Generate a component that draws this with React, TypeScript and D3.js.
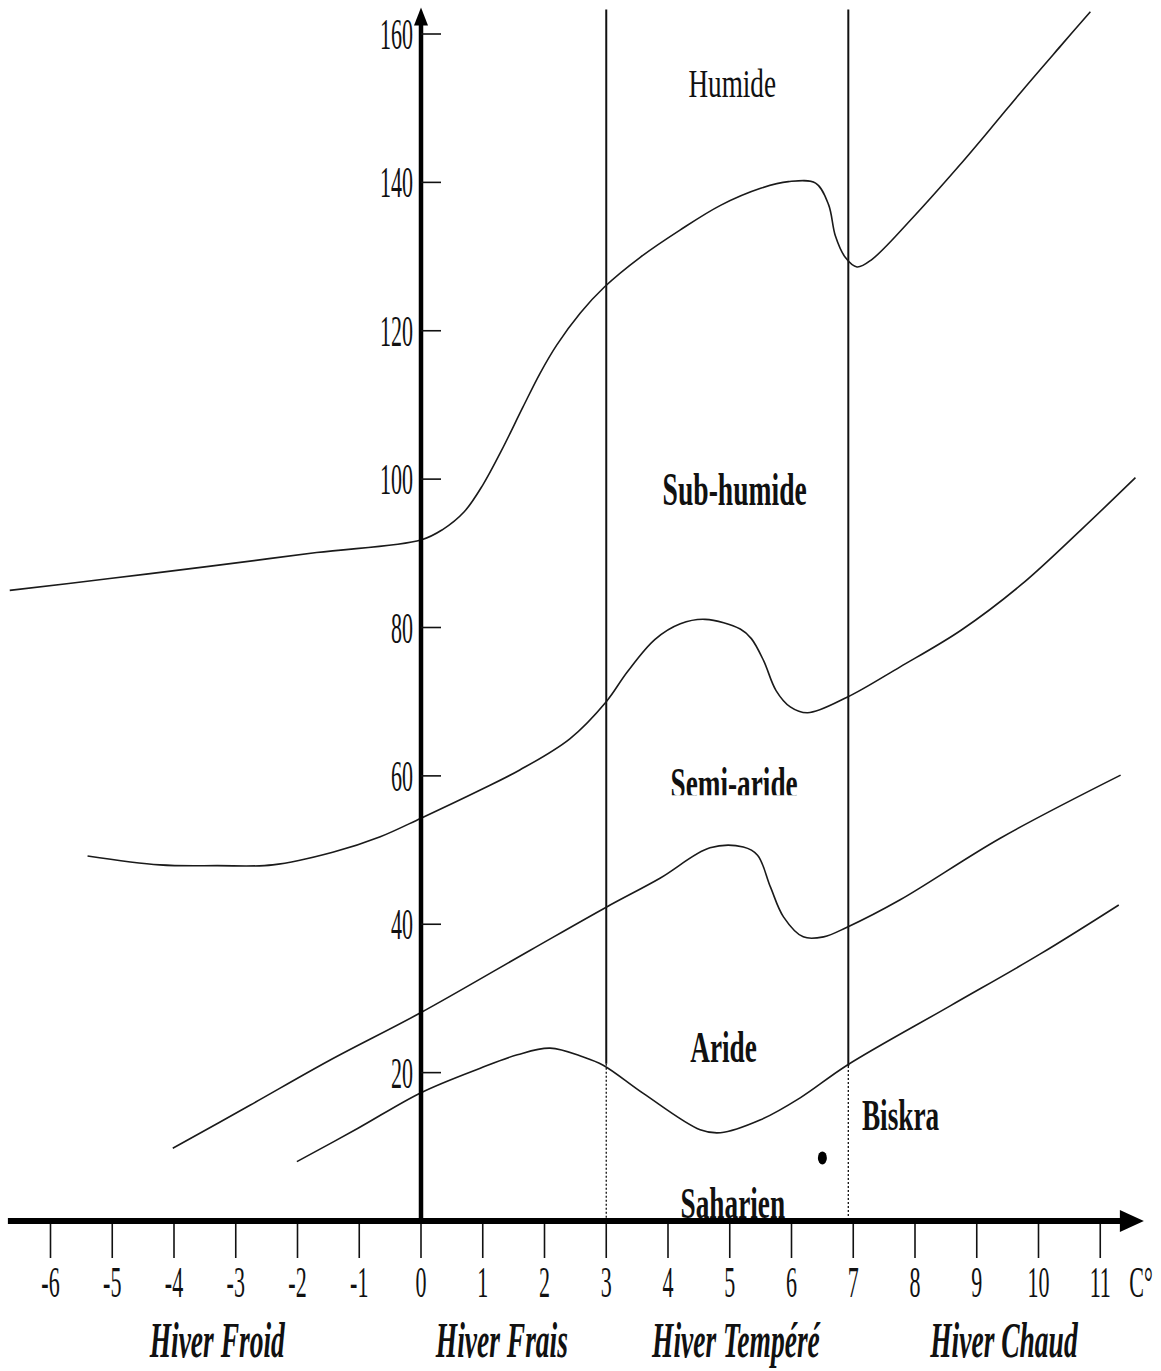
import React from "react";
import * as d3 from "d3";

// Emberger climagram: Q2 (y) vs mean minimum temperature of the coldest month (x, °C)
const xTicks = [-6, -5, -4, -3, -2, -1, 0, 1, 2, 3, 4, 5, 6, 7, 8, 9, 10, 11];
const yTicks = [20, 40, 60, 80, 100, 120, 140, 160];

// limit Humide / Sub-humide
const humideLimit: [number, number][] = [
  [-6.66, 85], [-5.04, 86.6], [-3.47, 88.2], [-1.69, 90.1], [0, 91.8], [0.35, 93.2],
  [0.7, 95.6], [1.0, 99.2], [1.3, 103.8], [1.65, 109.7], [1.93, 114.3], [2.2, 118.1],
  [2.58, 122.4], [2.97, 125.9], [3.55, 129.9], [4.2, 133.6], [4.85, 136.9], [5.5, 139.2],
  [5.95, 140.1], [6.39, 139.9], [6.6, 137], [6.71, 132.8], [6.87, 129.9], [7.06, 128.6],
  [7.3, 129.6], [7.97, 135.3], [8.69, 142], [9.22, 147.2], [9.76, 152.6], [10.36, 158.4],
  [10.84, 163],
];

// limit Sub-humide / Semi-aride
const subHumideLimit: [number, number][] = [
  [-5.4, 49.2], [-4.23, 48], [-3.3, 47.9], [-2.4, 48], [-1.43, 49.7], [-0.66, 51.8],
  [0, 54.3], [0.96, 58.1], [1.6, 60.8], [2.41, 65], [3, 70], [3.34, 74], [3.79, 78.4],
  [4.2, 80.5], [4.6, 81.1], [5.17, 79.8], [5.35, 78.5], [5.55, 75.5], [5.75, 71.5],
  [5.98, 69.3], [6.26, 68.5], [6.9, 70.6], [7.76, 74.7], [8.74, 79.6], [9.71, 85.7],
  [10.68, 93.1], [11.57, 100.2],
];

// limit Semi-aride / Aride
const semiAridLimit: [number, number][] = [
  [-4.02, 9.8], [-2.77, 15.6], [-1.47, 21.7], [0, 28.1], [1.77, 36.5], [3, 42.3],
  [3.87, 46.2], [4.68, 50.3], [5.22, 50.4], [5.45, 49.3], [5.66, 45], [5.87, 41],
  [6.19, 38.3], [6.52, 38.3], [6.9, 39.6], [7.76, 43.3], [9.38, 51.6], [11.33, 60.1],
];

// limit Aride / Saharien
const aridLimit: [number, number][] = [
  [-2.01, 8], [-1.02, 12.5], [0, 17.3], [0.96, 20.6], [1.56, 22.4], [2.09, 23.3],
  [2.63, 22.1], [2.95, 21], [3.6, 17.2], [4.52, 12.3], [4.85, 11.9], [5.49, 13.6],
  [6.14, 16.6], [6.9, 21], [8.57, 29], [10.03, 36], [11.3, 42.6],
];

// winter type boundaries: x, and Q2 below which the line is dotted
const winterBounds = [
  { x: 3, dottedTo: 21.2 },
  { x: 6.92, dottedTo: 20.9 },
];

const winterNames = ["Hiver Froid", "Hiver Frais", "Hiver Tempéré", "Hiver Chaud"];
const winterCenters = [-3.3, 1.31, 5.1, 9.44];

const zones = [
  { name: "Humide", x: 5.04, y: 151.5, bold: false, size: 40, sx: 0.68 },
  { name: "Sub-humide", x: 5.08, y: 96.5, bold: true, size: 46, sx: 0.6 },
  { name: "Semi-aride", x: 5.07, y: 57, bold: true, size: 44, sx: 0.62, cut: true },
  { name: "Aride", x: 4.9, y: 21.4, bold: true, size: 44, sx: 0.62 },
  { name: "Saharien", x: 5.05, y: 0.4, bold: true, size: 44, sx: 0.62 },
];

const station = { name: "Biskra", x: 6.5, y: 8.5, labelX: 7.14, labelY: 12.3 };

const W = 1161;
const H = 1371;
const FONT = "'Liberation Serif', 'Times New Roman', serif";

const x = d3.scaleLinear().domain([0, 11]).range([421, 1100.25]);
const y = d3.scaleLinear().domain([0, 160]).range([1221, 34]);

const line = d3
  .line<[number, number]>()
  .x((d) => x(d[0]))
  .y((d) => y(d[1]))
  .curve(d3.curveCatmullRom.alpha(0.5));

const Txt = ({ tx, ty, text, size, sx, bold = false, italic = false, anchor = "middle", clip }: any) => (
  <text
    transform={`translate(${tx},${ty}) scale(${sx},1)`}
    fontFamily={FONT}
    fontSize={size}
    fontWeight={bold ? "bold" : "normal"}
    fontStyle={italic ? "italic" : "normal"}
    textAnchor={anchor}
    fill="#111"
    clipPath={clip}
  >
    {text}
  </text>
);

export default function App() {
  const x0 = x(0);
  const y0 = y(0);
  const yTop = y(163.3);
  const xLeft = x(-6.69);
  const xEnd = x(11.35);

  return (
    <svg
      width={W}
      height={H}
      style={{ position: "absolute", left: 0, top: 0, background: "#fff" }}
    >
      <defs>
        {/* the "Semi-aride" label is cut at its foot in the original */}
        <clipPath id="cutFoot" clipPathUnits="userSpaceOnUse">
          <rect x={-200} y={-60} width={400} height={57} />
        </clipPath>
      </defs>
      <rect width={W} height={H} fill="#fff" />

      {/* winter type boundaries */}
      {winterBounds.map((b) => (
        <g key={b.x}>
          <line x1={x(b.x)} x2={x(b.x)} y1={yTop} y2={y(b.dottedTo)} stroke="#111" strokeWidth={2} />
          <line
            x1={x(b.x)}
            x2={x(b.x)}
            y1={y(b.dottedTo)}
            y2={y0}
            stroke="#111"
            strokeWidth={1.3}
            strokeDasharray="2,2"
          />
        </g>
      ))}

      {/* climate limits */}
      {[humideLimit, subHumideLimit, semiAridLimit, aridLimit].map((s, i) => (
        <path key={i} d={line(s) || ""} fill="none" stroke="#1a1a1a" strokeWidth={1.6} />
      ))}

      {/* y axis */}
      <line x1={x0} x2={x0} y1={y0} y2={yTop + 14} stroke="#000" strokeWidth={4.5} />
      <path d={`M${x0},${yTop - 2} L${x0 - 7},${yTop + 16} L${x0 + 7},${yTop + 16} Z`} fill="#000" />
      {yTicks.map((t) => (
        <g key={t}>
          <line x1={x0} x2={x0 + 20} y1={y(t)} y2={y(t)} stroke="#111" strokeWidth={1.6} />
          <Txt tx={x0 - 8} ty={y(t) + 15} text={t} size={44} sx={0.5} anchor="end" />
        </g>
      ))}

      {/* x axis */}
      <line x1={xLeft} x2={xEnd} y1={y0} y2={y0} stroke="#000" strokeWidth={6} />
      <path d={`M${xEnd + 22},${y0} L${xEnd - 2},${y0 - 11} L${xEnd - 2},${y0 + 11} Z`} fill="#000" />
      {xTicks.map((t) => (
        <g key={t}>
          <line x1={x(t)} x2={x(t)} y1={y0 + 3} y2={y0 + 37} stroke="#111" strokeWidth={1.6} />
          <Txt tx={x(t)} ty={y0 + 76} text={t} size={44} sx={0.5} />
        </g>
      ))}
      <Txt tx={x(11.66)} ty={y0 + 76} text="C°" size={44} sx={0.5} anchor="middle" />

      {/* winter names */}
      {winterNames.map((n, i) => (
        <Txt key={n} tx={x(winterCenters[i])} ty={y0 + 136} text={n} size={50} sx={0.55} bold italic />
      ))}

      {/* zone names */}
      {zones.map((z) => (
        <Txt
          key={z.name}
          tx={x(z.x)}
          ty={y(z.y)}
          text={z.name}
          size={z.size}
          sx={z.sx}
          bold={z.bold}
          clip={z.cut ? "url(#cutFoot)" : undefined}
        />
      ))}

      {/* station */}
      <ellipse cx={x(station.x)} cy={y(station.y)} rx={4.5} ry={6.5} fill="#000" />
      <Txt tx={x(station.labelX)} ty={y(station.labelY)} text={station.name} size={44} sx={0.62} bold anchor="start" />
    </svg>
  );
}
